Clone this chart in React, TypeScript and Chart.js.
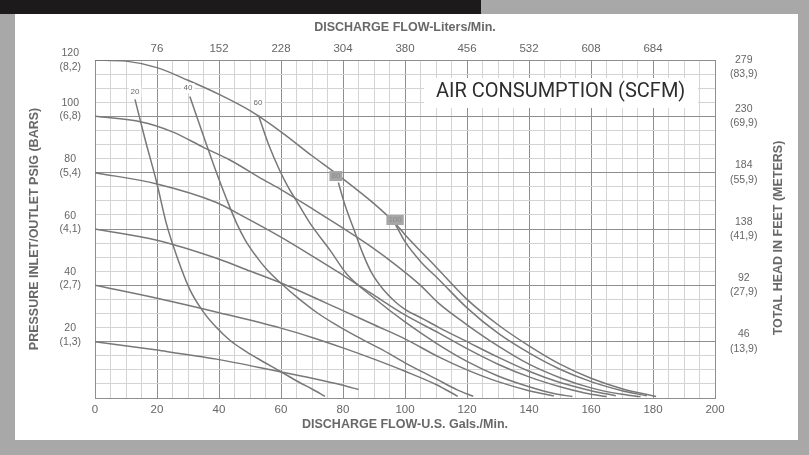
import React, { useEffect, useRef } from "react";
import { Chart, registerables } from "chart.js";

Chart.register(...registerables);

const FONT = "'Liberation Sans', Arial, sans-serif";

// Tick labels
const gpmTicks = ["0", "20", "40", "60", "80", "100", "120", "140", "160", "180", "200"];
const literTicks = ["76", "152", "228", "304", "380", "456", "532", "608", "684"];
const psiTicks = ["20", "40", "60", "80", "100", "120"];
const barTicks = ["(1,3)", "(2,7)", "(4,1)", "(5,4)", "(6,8)", "(8,2)"];
const feetTicks = ["46", "92", "138", "184", "230", "279"];
const meterTicks = ["(13,9)", "(27,9)", "(41,9)", "(55,9)", "(69,9)", "(83,9)"];

// Pressure curves: [GPM, PSI]
const psi120 = [[0, 120], [10, 119.6], [20, 117.3], [30, 112.8], [40, 107.8], [50, 102], [60, 94.5], [70, 86], [78, 79.5], [90, 69], [97, 61.8], [100, 58], [110, 46.5], [120, 35], [130, 26], [140, 18.5], [150, 12], [160, 7], [170, 3.3], [181, 0.5]];
const psi100 = [[0, 100], [15, 98], [25, 94.5], [35, 89], [43.5, 84.5], [54.3, 77.5], [60, 74], [70.4, 67], [79, 61], [88.7, 54], [97.3, 47], [105, 40], [111, 33.5], [120, 26], [130, 18.5], [140, 12], [150, 7.2], [160, 3.6], [170, 1.3], [176, 0.5]];
const psi80 = [[0, 80], [20, 76], [39, 69.5], [47.8, 64.5], [59.7, 57.3], [70.4, 50.2], [79, 44.3], [90, 36.5], [100, 29.5], [111, 23], [120, 17.5], [130, 12], [140, 7.5], [150, 4], [158, 1.8], [165, 0.5]];
const psi60 = [[0, 60], [20, 56], [39.2, 49.6], [47.8, 46], [59.7, 41], [66, 38], [80, 31], [90, 26], [100, 21], [111, 14.5], [120, 10], [130, 5.8], [140, 2.6], [148, 0.7]];
const psi40 = [[0, 40], [20, 35.4], [40, 30.3], [60, 24.8], [70, 21.5], [80, 17.8], [90, 13.8], [100, 9.5], [110, 4.8], [117, 0.6]];
const psi20 = [[0, 20], [20, 17], [39.2, 13.8], [59.7, 9.3], [70, 7], [80, 4.5], [85, 3]];

// Air consumption curves: [GPM, PSI]
const scfm20 = [[12.9, 106], [16, 92.5], [19.9, 76.5], [23, 62], [26.5, 50], [30.6, 38.5], [35, 30.5], [39.2, 25], [43.5, 20.5], [48, 17], [52.2, 14.2], [59.7, 9.5], [66, 5.5], [70, 3.2], [74.2, 0.6]];
const scfm40 = [[30.6, 107], [35, 93], [39.2, 80], [42.5, 70.5], [45.7, 62], [48.5, 56], [52.2, 50], [55.5, 45.5], [59.7, 41], [66, 35], [72, 30], [77, 26.5], [85, 21.5], [92, 17.5], [100, 12.5], [110, 6.8], [117, 2.8], [122, 0.6]];
const scfm60 = [[52.7, 100.5], [56, 90], [59.7, 80.5], [62.5, 74.5], [65, 70], [69.4, 62], [75.8, 52.5], [81.2, 44], [90, 35.5], [100, 27], [110, 19.5], [120, 13], [130, 7.8], [140, 4], [148, 1.6], [154, 0.5]];
const scfm80 = [[78.5, 76.5], [80.5, 69], [83.3, 60.5], [86.5, 51], [89.2, 44.5], [93, 38.5], [97, 34], [100, 31.5], [106, 28], [111, 25], [120, 20], [130, 14.5], [140, 9.5], [150, 5.5], [160, 2.6], [168, 0.8]];
const scfm100 = [[97, 61.5], [100, 55.5], [105, 48.5], [111, 42], [120, 32], [130, 23], [140, 16], [150, 10.2], [160, 5.8], [170, 2.6], [178, 0.8]];

const curves = [psi120, psi100, psi80, psi60, psi40, psi20, scfm20, scfm40, scfm60, scfm80, scfm100];

// SCFM curve labels
const scfmLabels = ["20", "40", "60", "80", "100"];
const scfmLabelGpm = [12.9, 30, 52.6, 77.7, 96.8];
const scfmLabelPsi = [108.6, 110, 104.7, 78.8, 63.2];

const TITLE_BOTTOM = "DISCHARGE FLOW-U.S. Gals./Min.";
const TITLE_TOP = "DISCHARGE FLOW-Liters/Min.";
const TITLE_LEFT = "PRESSURE INLET/OUTLET PSIG (BARS)";
const TITLE_RIGHT = "TOTAL HEAD IN FEET (METERS)";
const NOTE = "AIR CONSUMPTION (SCFM)";

const MAJOR = "#8e8e8e";
const MINOR = "#d3d3d3";
const LINE = "#787878";
const TICK = "#666666";
const TITLE = "#686868";

const gridColor = (c: any) => (c.tick && c.tick.value % 20 === 0 ? MAJOR : MINOR);

const leftLabel = (v: number) => {
  if (v % 20 !== 0 || v <= 0) return "";
  const i = v / 20 - 1;
  const lines = [psiTicks[i], barTicks[i]];
  return v === 120 ? ["", ...lines] : lines;
};

const rightLabel = (v: number) => {
  if (v <= 0) return "";
  const i = v / 20 - 1;
  const lines = [feetTicks[i], meterTicks[i]];
  return v === 120 ? ["", ...lines] : lines;
};

const annotate = {
  id: "annotate",
  afterDatasetsDraw(chart: any) {
    const { ctx, chartArea: a, scales } = chart;
    const xs = scales.x;
    const ys = scales.y;
    ctx.save();
    // curve labels
    ctx.font = `8px ${FONT}`;
    ctx.textAlign = "center";
    ctx.textBaseline = "middle";
    scfmLabels.forEach((t, i) => {
      const px = xs.getPixelForValue(scfmLabelGpm[i]);
      const py = ys.getPixelForValue(scfmLabelPsi[i]);
      const w = ctx.measureText(t).width + 4;
      const h = 10;
      ctx.fillStyle = i >= 3 ? "#a6a6a6" : "#ffffff";
      ctx.fillRect(px - w / 2, py - h / 2, w, h);
      ctx.fillStyle = i >= 3 ? "#8c8c8c" : "#6a6a6a";
      ctx.fillText(t, px, py);
    });
    // note box
    ctx.fillStyle = "#ffffff";
    ctx.fillRect(a.left + 329, a.top + 18, 274, 30);
    ctx.fillStyle = "#2e2e2e";
    ctx.font = `20px Roboto, ${FONT}`;
    ctx.textAlign = "left";
    ctx.fillText(NOTE, a.left + 341, a.top + 32);
    // right axis title (reads bottom to top)
    ctx.translate(a.right + 64, (a.top + a.bottom) / 2 + 9);
    ctx.rotate(-Math.PI / 2);
    ctx.textAlign = "center";
    ctx.fillStyle = TITLE;
    ctx.font = `bold 12.5px ${FONT}`;
    ctx.fillText(TITLE_RIGHT, 0, 0);
    ctx.restore();
  },
};

export default function App() {
  const ref = useRef<HTMLCanvasElement | null>(null);

  useEffect(() => {
    if (!ref.current) return;
    const datasets = curves.map((c) => ({
      data: c.map(([x, y]) => ({ x, y })),
      showLine: true,
      borderColor: LINE,
      borderWidth: 1.5,
      pointRadius: 0,
      fill: false,
      cubicInterpolationMode: "monotone" as const,
      xAxisID: "x",
      yAxisID: "y",
    }));
    const chart = new Chart(ref.current, {
      type: "scatter",
      data: { datasets },
      plugins: [annotate],
      options: {
        animation: false,
        responsive: false,
        devicePixelRatio: 1,
        layout: { padding: 0 },
        plugins: { legend: { display: false }, tooltip: { enabled: false } },
        scales: {
          x: {
            type: "linear",
            position: "bottom",
            min: 0,
            max: 200,
            afterFit: (s: any) => { s.height = 42; },
            ticks: {
              stepSize: 5,
              autoSkip: false,
              maxRotation: 0,
              padding: 5,
              color: TICK,
              font: { family: FONT, size: 11.5 },
              callback: (v: any) => (v % 20 === 0 ? gpmTicks[v / 20] : ""),
            },
            grid: { color: gridColor, lineWidth: 1, drawTicks: false },
            border: { display: true, color: MAJOR },
            title: {
              display: true,
              text: TITLE_BOTTOM,
              color: TITLE,
              font: { family: FONT, size: 12.5, weight: "bold" },
              padding: { top: 0, bottom: 7.5 },
            },
          },
          x2: {
            type: "linear",
            position: "top",
            min: 0,
            max: 200,
            afterFit: (s: any) => { s.height = 46; },
            ticks: {
              stepSize: 20,
              autoSkip: false,
              maxRotation: 0,
              padding: 4,
              color: TICK,
              font: { family: FONT, size: 11.5 },
              callback: (v: any) => (v > 0 && v < 200 ? literTicks[v / 20 - 1] : ""),
            },
            grid: { display: false, drawTicks: false },
            border: { display: false },
            title: {
              display: true,
              text: TITLE_TOP,
              color: TITLE,
              font: { family: FONT, size: 12.5, weight: "bold" },
              padding: { top: 6.5, bottom: 0 },
            },
          },
          y: {
            type: "linear",
            position: "left",
            min: 0,
            max: 120,
            afterFit: (s: any) => { s.width = 80; },
            ticks: {
              stepSize: 5,
              autoSkip: false,
              padding: 14,
              crossAlign: "center",
              labelOffset: -6.5,
              color: TICK,
              font: { family: FONT, size: 10.5, lineHeight: 1.25 },
              callback: (v: any) => leftLabel(v),
            },
            grid: { color: gridColor, lineWidth: 1, drawTicks: false },
            border: { display: true, color: MAJOR },
            title: {
              display: true,
              text: TITLE_LEFT,
              color: TITLE,
              font: { family: FONT, size: 12.5, weight: "bold" },
              padding: { top: 12.5, bottom: 0 },
            },
          },
          yR: {
            type: "linear",
            position: "right",
            min: 0,
            max: 120,
            afterFit: (s: any) => { s.width = 83; },
            ticks: {
              stepSize: 20,
              autoSkip: false,
              padding: 15,
              crossAlign: "center",
              labelOffset: 0,
              color: TICK,
              font: { family: FONT, size: 10.5, lineHeight: 1.35 },
              callback: (v: any) => rightLabel(v),
            },
            grid: { display: false, drawTicks: false },
            border: { display: false },
          },
        },
      } as any,
    });
    return () => chart.destroy();
  }, []);

  return (
    <div style={{ position: "fixed", left: 0, top: 0, width: 809, height: 455, background: "#a8a8a8", overflow: "hidden" }}>
      <div style={{ position: "absolute", left: 0, top: 0, width: 481, height: 14, background: "#1c1a1a" }} />
      <div style={{ position: "absolute", left: 15, top: 14, width: 783, height: 426, background: "#ffffff" }}>
        <canvas ref={ref} width={783} height={426} style={{ display: "block", width: 783, height: 426 }} />
      </div>
    </div>
  );
}
